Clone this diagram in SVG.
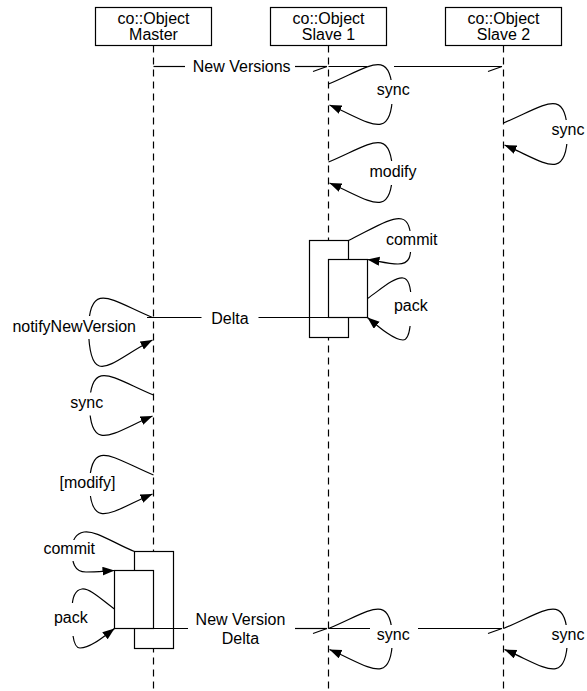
<svg xmlns="http://www.w3.org/2000/svg" width="587" height="691" viewBox="0 0 587 691">
<style>
.ln{stroke:#000;stroke-width:1.2;fill:none}
.life{stroke:#000;stroke-width:1.2;fill:none;stroke-dasharray:7 5}
.box{fill:#fff;stroke:#000;stroke-width:1.2}
.bg{fill:#fff;stroke:none}
text{font-family:"Liberation Sans",Arial,Helvetica,sans-serif;font-size:16px;text-anchor:middle;fill:#000}
</style>
<defs>
<marker id="arr" markerUnits="userSpaceOnUse" markerWidth="13" markerHeight="10" refX="12" refY="4.5" orient="auto">
<path d="M0,0 L12,4.5 L0,9 z" fill="#000"/>
</marker>
<marker id="half" markerUnits="userSpaceOnUse" markerWidth="16" markerHeight="8" refX="15" refY="1" orient="auto" overflow="visible">
<path d="M1,6 L15,1" stroke="#000" stroke-width="1.2" fill="none"/>
</marker>
</defs>
<rect width="587" height="691" fill="#fff"/>

<g id="master">
<line class="life" x1="153.5" y1="45.5" x2="153.5" y2="691"/>
<rect class="box" x="95.5" y="7.5" width="116" height="38"/>
<text x="153.5" y="23.5">co::Object</text>
<text x="153.5" y="40">Master</text>
</g>
<g id="slave1">
<line class="life" x1="328.5" y1="45.5" x2="328.5" y2="691"/>
<rect class="box" x="270.5" y="7.5" width="116" height="38"/>
<text x="328.5" y="23.5">co::Object</text>
<text x="328.5" y="40">Slave 1</text>
</g>
<g id="slave2">
<line class="life" x1="503.5" y1="45.5" x2="503.5" y2="691"/>
<rect class="box" x="445.5" y="7.5" width="116" height="38"/>
<text x="503.5" y="23.5">co::Object</text>
<text x="503.5" y="40">Slave 2</text>
</g>

<g id="slave1-activation">
<rect class="box" x="309.5" y="240.5" width="39" height="97"/>
<rect class="box" x="328.5" y="259.5" width="39" height="58"/>
</g>
<g id="master-activation">
<rect class="box" x="134.5" y="551.5" width="39" height="97"/>
<rect class="box" x="114.5" y="570.5" width="39" height="58"/>
</g>

<g id="connectors">
<!-- New Versions -->
<path class="ln" d="M153.5,66.5 H185"/>
<path class="ln" d="M295,66.5 H327" marker-end="url(#half)"/>
<path class="ln" d="M328.5,66.5 H367"/>
<path class="ln" d="M394,66.5 H502" marker-end="url(#half)"/>
<!-- Slave loops -->
<path class="ln" d="M328.5,84 C369.5,67 391.5,46 392.5,94.5 C391.5,143 369.5,122 329.5,105" marker-end="url(#arr)"/>
<path class="ln" d="M503.5,123 C544.5,106 566.5,85 567.5,134 C566.5,183 544.5,162 504.5,145" marker-end="url(#arr)"/>
<path class="ln" d="M328.5,162 C369.5,145 391.5,124 392.5,172.5 C391.5,221 369.5,200 329.5,183" marker-end="url(#arr)"/>
<!-- commit / pack on Slave 1 -->
<path class="ln" d="M348.5,240.5 C372,229 392,216 402,219 C410,221 411,233 411,243 C411,256 410,264 398,264 C388,264 378,261 367.5,259.5" marker-end="url(#arr)"/>
<path class="ln" d="M367.5,298.5 C380,290 394,277 403,278 C410,279 411,290 411,300 C411,318 411,340 403,340 C394,340 380,328 367.5,317.5" marker-end="url(#arr)"/>
<!-- Delta -->
<path class="ln" d="M147,317.5 H201.5"/>
<path class="ln" d="M258.5,317.5 H328.5"/>
<!-- Master loops -->
<path class="ln" d="M152.5,317.5 C111.5,300.5 89.5,279.5 88.5,328.75 C89.5,392 111.5,361 152.5,340" marker-end="url(#arr)"/>
<path class="ln" d="M153.5,395 C112.5,378 90.5,357 89.5,405.5 C90.5,454 112.5,433 152.5,416" marker-end="url(#arr)"/>
<path class="ln" d="M153.5,475 C112.5,458 90.5,437 89.5,484.5 C90.5,532 112.5,511 152.5,494" marker-end="url(#arr)"/>
<!-- commit / pack on Master -->
<path class="ln" d="M134.5,551.5 C115,544 96,530 84,532 C74,534 72,542 72,550 C72,562 74,572 86,572 C96,572 105,571 114.5,570.5" marker-end="url(#arr)"/>
<path class="ln" d="M114.5,609 C102,600 90,588 82,589 C74,590 72,600 72,610 C72,628 72,648 80,648 C90,648 102,638 114.5,628.5" marker-end="url(#arr)"/>
<!-- New Version Delta -->
<path class="ln" d="M153.5,628.5 H188"/>
<path class="ln" d="M295,628.5 H327" marker-end="url(#half)"/>
<path class="ln" d="M328.5,628.5 H502" marker-end="url(#half)"/>
<path class="ln" d="M328.5,628.5 C369.5,611.5 391.5,590.5 392.5,639 C391.5,687.5 369.5,666.5 329.5,649.5" marker-end="url(#arr)"/>
<path class="ln" d="M503.5,628.5 C544.5,611.5 566.5,590.5 567.5,639 C566.5,687.5 544.5,666.5 504.5,649.5" marker-end="url(#arr)"/>
</g>

<g id="labels">
<text x="241.7" y="72">New Versions</text>
<rect class="bg" x="370" y="80" width="47" height="24"/><text x="393.3" y="95">sync</text>
<rect class="bg" x="544.5" y="120" width="47" height="24"/><text x="568" y="135">sync</text>
<rect class="bg" x="364" y="161" width="58" height="24"/><text x="393" y="176.5">modify</text>
<rect class="bg" x="381" y="231" width="62" height="21"/><text x="411.7" y="244.5">commit</text>
<rect class="bg" x="389" y="292" width="44" height="34"/><text x="410.8" y="311">pack</text>
<text x="230" y="323.5">Delta</text>
<rect class="bg" x="7" y="316" width="134" height="23"/><text x="74.2" y="331.5">notifyNewVersion</text>
<rect class="bg" x="63" y="392.5" width="47" height="23"/><text x="86.7" y="407.5">sync</text>
<rect class="bg" x="56" y="473" width="63" height="23"/><text x="87.5" y="488">[modify]</text>
<rect class="bg" x="40" y="540" width="58" height="21"/><text x="69.2" y="553.5">commit</text>
<rect class="bg" x="50" y="603" width="42" height="33"/><text x="70.8" y="623">pack</text>
<text x="240.5" y="625">New Version</text>
<text x="240.5" y="644">Delta</text>
<rect class="bg" x="370" y="625" width="48" height="23"/><text x="393.3" y="640">sync</text>
<rect class="bg" x="544.5" y="625" width="47" height="23"/><text x="568" y="640">sync</text>
</g>
</svg>
